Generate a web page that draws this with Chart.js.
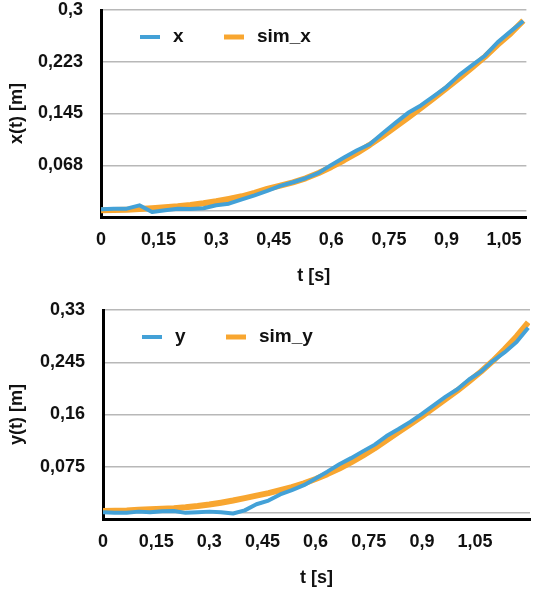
<!DOCTYPE html>
<html>
<head>
<meta charset="utf-8">
<script src="https://cdn.jsdelivr.net/npm/chart.js@4.4.1/dist/chart.umd.min.js"></script>
<style>
  body { margin: 0; background: #fff; }
  canvas { position: absolute; left: 0; }
  #chartX { top: 0; }
  #chartY { top: 296px; }
</style>
</head>
<body>
<canvas id="chartX" width="534" height="292"></canvas>
<canvas id="chartY" width="534" height="296"></canvas>
<script>
// time samples (s)
const tTop = [0, 0.033, 0.067, 0.1, 0.133, 0.167, 0.2, 0.233, 0.267, 0.3, 0.333, 0.367,
  0.4, 0.433, 0.467, 0.5, 0.533, 0.567, 0.6, 0.633, 0.667, 0.7, 0.733, 0.767,
  0.8, 0.833, 0.867, 0.9, 0.933, 0.967, 1.0, 1.033, 1.067, 1.1];
const tBottom = [0, 0.033, 0.067, 0.1, 0.133, 0.167, 0.2, 0.233, 0.267, 0.3, 0.333, 0.367,
  0.4, 0.433, 0.467, 0.5, 0.533, 0.567, 0.6, 0.633, 0.667, 0.7, 0.733, 0.767,
  0.8, 0.833, 0.867, 0.9, 0.933, 0.967, 1.0, 1.033, 1.067, 1.1, 1.133, 1.167, 1.2];

// measured and simulated positions (m)
const xMeasured = [0.0015, 0.0025, 0.0025, 0.0075, -0.0025, 0.0, 0.0025, 0.002, 0.003, 0.0075, 0.01, 0.0165,
  0.0225, 0.029, 0.0365, 0.042, 0.048, 0.056, 0.068, 0.079, 0.09, 0.099, 0.115, 0.131,
  0.146, 0.157, 0.171, 0.185, 0.2025, 0.2175, 0.2315, 0.2515, 0.268, 0.2835];
const xSim = [0.0, 0.0005, 0.001, 0.0018, 0.003, 0.0045, 0.006, 0.008, 0.0105, 0.0135, 0.017, 0.021,
  0.026, 0.032, 0.037, 0.042, 0.048, 0.056, 0.065, 0.075, 0.086, 0.098, 0.111, 0.125,
  0.139, 0.153, 0.168, 0.183, 0.198, 0.214, 0.23, 0.248, 0.265, 0.284];
const yMeasured = [0.001, 0.0, 0.0, 0.002, 0.001, 0.0025, 0.003, 0.0, 0.001, 0.002, 0.001, -0.001,
  0.004, 0.014, 0.02, 0.03, 0.037, 0.045, 0.056, 0.067, 0.079, 0.089, 0.1, 0.111,
  0.125, 0.136, 0.148, 0.161, 0.175, 0.189, 0.201, 0.217, 0.23, 0.247, 0.261, 0.278, 0.301];
const ySim = [0.003, 0.0035, 0.004, 0.005, 0.0057, 0.0065, 0.0075, 0.009, 0.011, 0.0135, 0.0165, 0.02,
  0.024, 0.028, 0.032, 0.037, 0.042, 0.048, 0.055, 0.063, 0.072, 0.082, 0.093, 0.105,
  0.118, 0.131, 0.144, 0.157, 0.171, 0.185, 0.199, 0.214, 0.23, 0.247, 0.266, 0.287, 0.31];

// axis ticks
const tTicks = [0, 0.15, 0.3, 0.45, 0.6, 0.75, 0.9, 1.05];
const tLabels = ['0', '0,15', '0,3', '0,45', '0,6', '0,75', '0,9', '1,05'];
const xTicks = [0, 0.0675, 0.145, 0.2225, 0.3];
const xLabels = ['', '0,068', '0,145', '0,223', '0,3'];
const yTicks = [0, 0.075, 0.16, 0.245, 0.33];
const yLabels = ['', '0,075', '0,16', '0,245', '0,33'];

const BLUE = '#43a1d7';
const ORANGE = '#f8a630';
const FONT = '"Liberation Sans", Arial, sans-serif';

// legend drawn inside the plot area
const lineLegend = {
    id: 'lineLegend',
    afterDatasetsDraw(chart) {
        const {ctx, chartArea} = chart;
        const y = chartArea.top + 27;
        const starts = [39, 123];
        ctx.save();
        ctx.font = 'bold 19px ' + FONT;
        ctx.textBaseline = 'middle';
        chart.data.datasets.forEach((ds, i) => {
            const x = chartArea.left + starts[i];
            ctx.strokeStyle = ds.borderColor;
            ctx.lineWidth = i === 0 ? 4 : 5;
            ctx.beginPath();
            ctx.moveTo(x, y);
            ctx.lineTo(x + 20, y);
            ctx.stroke();
            ctx.fillStyle = '#111';
            ctx.fillText(ds.label, x + 33, y);
        });
        ctx.restore();
    }
};

function makeChart(id, s) {
    new Chart(document.getElementById(id), {
        type: 'line',
        data: {
            datasets: [{
                label: s.names[0],
                data: s.t.map((t, i) => ({x: t, y: s.measured[i]})),
                borderColor: BLUE,
                borderWidth: 4,
                pointRadius: 0,
                borderJoinStyle: 'round'
            }, {
                label: s.names[1],
                data: s.t.map((t, i) => ({x: t, y: s.sim[i]})),
                borderColor: ORANGE,
                borderWidth: 6,
                pointRadius: 0,
                borderJoinStyle: 'round'
            }]
        },
        options: {
            responsive: false,
            animation: false,
            layout: { padding: { top: s.padTop, right: s.padRight, bottom: 0, left: 0 } },
            plugins: {
                legend: { display: false },
                tooltip: { enabled: false }
            },
            scales: {
                x: {
                    type: 'linear',
                    min: 0,
                    max: s.tMax,
                    afterFit: scale => { scale.height = s.xHeight; },
                    afterBuildTicks: scale => { scale.ticks = tTicks.map(v => ({value: v})); },
                    grid: { display: false, drawTicks: false },
                    border: { color: '#000', width: 3 },
                    ticks: {
                        padding: 12,
                        maxRotation: 0,
                        color: '#111',
                        font: { family: FONT, size: 18, weight: 'bold' },
                        callback: (value, index) => tLabels[index]
                    },
                    title: {
                        display: true,
                        text: 't [s]',
                        color: '#111',
                        padding: { top: 0, bottom: s.titlePad },
                        font: { family: FONT, size: 18, weight: 'bold' }
                    }
                },
                y: {
                    min: -0.01,
                    max: s.yMax,
                    afterFit: scale => {
                        scale.width = s.yWidth;
                        // keep the plot top where the layout padding puts it
                        scale.paddingTop = 0;
                        scale.paddingBottom = 0;
                    },
                    afterBuildTicks: scale => { scale.ticks = s.yTicks.map(v => ({value: v})); },
                    grid: { color: '#b8b8b8', lineWidth: 1.5, drawTicks: false },
                    border: { color: '#000', width: 3 },
                    ticks: {
                        padding: 18,
                        color: '#111',
                        font: { family: FONT, size: 18, weight: 'bold' },
                        callback: (value, index) => s.yLabels[index]
                    },
                    title: {
                        display: true,
                        text: s.yTitle,
                        color: '#111',
                        padding: { top: 6, bottom: 0 },
                        font: { family: FONT, size: 18, weight: 'bold' }
                    }
                }
            }
        },
        plugins: [lineLegend]
    });
}

makeChart('chartX', {
    t: tTop, measured: xMeasured, sim: xSim, names: ['x', 'sim_x'],
    tMax: 1.108, yMax: 0.3, yTicks: xTicks, yLabels: xLabels, yTitle: 'x(t) [m]',
    padTop: 10, padRight: 7, xHeight: 75, yWidth: 101, titlePad: 5
});

makeChart('chartY', {
    t: tBottom, measured: yMeasured, sim: ySim, names: ['y', 'sim_y'],
    tMax: 1.205, yMax: 0.33, yTicks: yTicks, yLabels: yLabels, yTitle: 'y(t) [m]',
    padTop: 14, padRight: 4, xHeight: 73, yWidth: 103, titlePad: 3.5
});
</script>
</body>
</html>
